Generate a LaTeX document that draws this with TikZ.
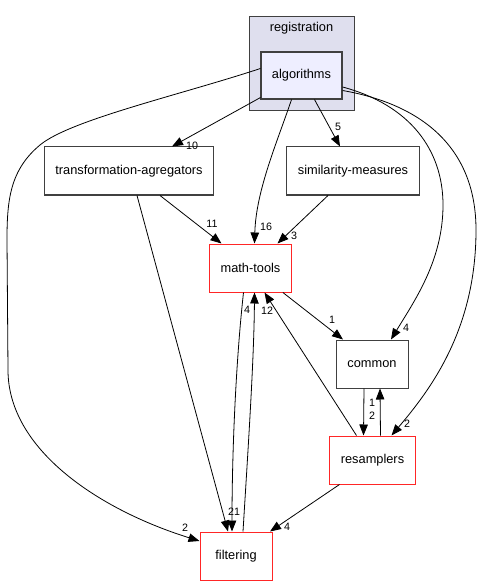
\documentclass[tikz,border=0pt]{standalone}
\usepackage{fontspec}
\setmainfont{Liberation Sans}
\usepackage{xcolor}
\usetikzlibrary{arrows.meta}
\definecolor{clusterfill}{RGB}{223,223,238}
\definecolor{dirfill}{RGB}{238,238,255}
\definecolor{edgegray}{RGB}{64,64,64}

\begin{document}
\begin{tikzpicture}[x=1pt, y=-1pt, >={Triangle[length=11pt,width=8.5pt]},
  font=\fontsize{12.8}{15}\selectfont,
  cluster/.style={draw=edgegray, line width=0.9pt, fill=clusterfill,
                  minimum width=105pt, minimum height=94pt, inner sep=0pt},
  dir/.style={draw=edgegray, line width=1pt, fill=white, inner xsep=11pt,
              minimum width=72pt, minimum height=48pt},
  hdir/.style={dir, draw=red!85},
  cur/.style={dir, fill=dirfill, line width=1.1pt, minimum width=81pt, minimum height=47pt},
  dep/.style={->, line width=0.8pt},
  cnt/.style={font=\fontsize{10.7}{12}\selectfont, inner sep=0pt}]

  \useasboundingbox (0,0) rectangle (482,585);

  \node[cluster] (reg) at (301.5,63) {};
  \node (reglbl) at (301.5,28) {registration};

  \node[cur]  (alg)    at (301.5,75.5) {algorithms};
  \node[dir]  (trans)  at (129,171)    {transformation-agregators};
  \node[dir]  (simil)  at (353,171)    {similarity-measures};
  \node[hdir] (math)   at (250.5,268)  {math-tools};
  \node[dir]  (common) at (372,364)    {common};
  \node[hdir] (resamp) at (372.5,460)  {resamplers};
  \node[hdir] (filt)   at (236,556)    {filtering};

  \draw[dep] ([yshift=2pt]alg.south west) -- ([xshift=43pt]trans.north);
  \draw[dep] ([xshift=13pt]alg.south) -- ([xshift=-13pt]simil.north);
  \draw[dep] ([xshift=-10pt]alg.south) .. controls (278,140) and (256,190) .. ([xshift=4pt]math.north);
  \draw[dep] ([yshift=-11.5pt]alg.east) .. controls (410,105) and (443,150) .. (443,205)
                .. controls (443,260) and (415,300) .. ([xshift=19pt]common.north);
  \draw[dep] ([yshift=-15pt]alg.east) .. controls (425,105) and (476,150) .. (476,230)
                .. controls (476,330) and (430,390) .. ([xshift=19pt]resamp.north);
  \draw[dep] ([yshift=7pt]alg.west) .. controls (180,95) and (70,120) .. (40,145)
                .. controls (10,170) and (7,200) .. (7,240) -- (8,370)
                .. controls (8,450) and (100,510) .. ([yshift=15pt]filt.west);

  \draw[dep] ([xshift=31pt]trans.south) -- ([xshift=-29pt]math.north);
  \draw[dep] ([xshift=8pt]trans.south) -- ([xshift=-8pt]filt.north);
  \draw[dep] ([xshift=-25pt]simil.south) -- ([xshift=27pt]math.north);

  \draw[dep] ([xshift=-9pt]math.south east) -- ([xshift=-29pt]common.north);
  \draw[dep] ([xshift=-7pt]math.south) .. controls (236,360) and (232,450) .. ([xshift=-4pt]filt.north);
  \draw[dep] ([xshift=7pt]filt.north) .. controls (248,450) and (254,360) .. ([xshift=4pt]math.south);
  \draw[dep] ([xshift=-16pt]resamp.north) -- ([xshift=14pt]math.south);

  \draw[dep] ([xshift=-8pt]common.south) -- ([xshift=-9pt]resamp.north);
  \draw[dep] ([xshift=8pt]resamp.north) -- ([xshift=8pt]common.south);
  \draw[dep] ([xshift=-33pt]resamp.south) -- ([xshift=34pt]filt.north);

  % edge counts
  \node[cnt] at (192,146) {10};
  \node[cnt] at (338,127) {5};
  \node[cnt] at (266,227) {16};
  \node[cnt] at (406,328) {4};
  \node[cnt] at (407,424) {2};
  \node[cnt] at (185,528) {2};
  \node[cnt] at (212,224) {11};
  \node[cnt] at (294,236) {3};
  \node[cnt] at (332,320) {1};
  \node[cnt] at (247,310) {4};
  \node[cnt] at (267,311) {12};
  \node[cnt] at (372,403) {1};
  \node[cnt] at (372,416) {2};
  \node[cnt] at (231,512) {2};
  \node[cnt] at (237,512) {1};
  \node[cnt] at (287,527) {4};
\end{tikzpicture}
\end{document}
